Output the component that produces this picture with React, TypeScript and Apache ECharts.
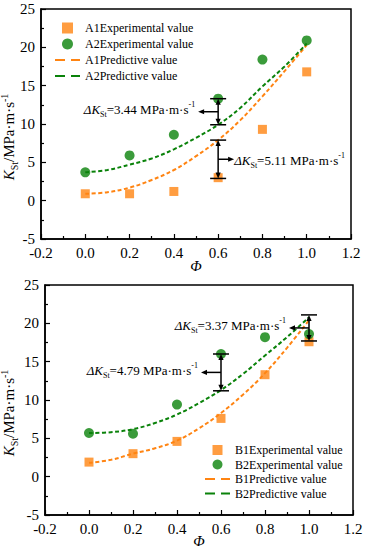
import React, { useEffect, useRef } from "react";
import * as echarts from "echarts";

// ---------- data ----------
const xTicks = [-0.2, 0.0, 0.2, 0.4, 0.6, 0.8, 1.0, 1.2];
const yTicks = [-5, 0, 5, 10, 15, 20, 25];

const phiExp = [0, 0.2, 0.4, 0.6, 0.8, 1.0];
const a1Exp = [0.9, 0.9, 1.2, 3.0, 9.3, 16.8];
const a2Exp = [3.7, 5.9, 8.6, 13.3, 18.4, 20.9];
const b1Exp = [1.9, 3.0, 4.6, 7.6, 13.3, 17.6];
const b2Exp = [5.7, 5.6, 9.4, 16.0, 18.2, 18.6];

const phiPred = [0, 0.1, 0.2, 0.3, 0.4, 0.5, 0.6, 0.7, 0.8, 0.9, 1.0];
const a1Pred = [0.9, 1.1, 1.7, 2.7, 4.0, 5.8, 7.9, 10.5, 13.6, 16.9, 20.3];
const a2Pred = [3.7, 4.0, 4.7, 5.5, 6.7, 8.2, 9.9, 12.1, 14.9, 17.5, 20.5];
const b1Pred = [1.8, 2.2, 3.0, 3.7, 4.7, 6.3, 8.3, 10.7, 13.5, 16.8, 20.4];
const b2Pred = [5.7, 5.8, 6.2, 7.0, 8.1, 9.6, 11.3, 13.4, 15.8, 18.2, 20.8];

const topDeltaPhi = [0.6, 0.6];
const topDeltaHigh = [13.3, 7.9];
const topDeltaLow = [9.9, 2.9];
const topDeltaValue = ["3.44", "5.11"];
const topDeltaSide = [-1, 1];

const bottomDeltaPhi = [0.6, 1.0];
const bottomDeltaHigh = [16.0, 21.1];
const bottomDeltaLow = [11.2, 17.7];
const bottomDeltaValue = ["4.79", "3.37"];
const bottomDeltaSide = [-1, -1];

// ---------- styles ----------
const FONT = "'Liberation Serif', 'Times New Roman', serif";
const ORANGE = "#ff8412";
const GREEN = "#0a820a";
const SQUARE_ICON = "path://M0,0h10v10H0z";
const DASH_ICON = "path://M0,0h10v2H0z M16,0h9v2H16z";

const pairs = (xs: number[], ys: number[]) => xs.map((x, i) => [x, ys[i]]);

const deltaRich = {
  k: { fontFamily: FONT, fontSize: 13, fontStyle: "italic", lineHeight: 18, fill: "#000", verticalAlign: "middle" },
  s: { fontFamily: FONT, fontSize: 8, lineHeight: 8, fill: "#000", verticalAlign: "bottom" },
  n: { fontFamily: FONT, fontSize: 13, lineHeight: 18, fill: "#000", verticalAlign: "middle" },
  p: { fontFamily: FONT, fontSize: 8, lineHeight: 8, fill: "#000", verticalAlign: "top" },
};

function makeBracketSeries(
  xIdx: number,
  phis: number[],
  highs: number[],
  lows: number[],
  values: string[],
  sides: number[]
) {
  return {
    type: "custom",
    xAxisIndex: xIdx,
    yAxisIndex: xIdx,
    clip: false,
    silent: true,
    z: 10,
    encode: { x: 0, y: [1, 2] },
    data: phis.map((p, i) => [p, highs[i], lows[i], sides[i]]),
    renderItem: (params: any, api: any) => {
      const x = api.value(0);
      const hi = api.value(1);
      const lo = api.value(2);
      const side = api.value(3);
      const pHi = api.coord([x, hi]);
      const pLo = api.coord([x, lo]);
      const cx = pHi[0];
      const yt = pHi[1];
      const yb = pLo[1];
      const ym = (yt + yb) / 2;
      const cap = 8;
      const ah = 5;
      const aw = 2.6;
      const len = side < 0 ? 20 : 16;
      const ls = { stroke: "#000", lineWidth: 1.5 };
      const fs = { fill: "#000" };
      const tip = cx + side * len;
      const text = `{k|ΔK}{s|St}{n|=${values[params.dataIndex]} MPa·m·s}{p|-1}`;
      return {
        type: "group",
        children: [
          { type: "line", shape: { x1: cx - cap, y1: yt, x2: cx + cap, y2: yt }, style: ls },
          { type: "line", shape: { x1: cx - cap, y1: yb, x2: cx + cap, y2: yb }, style: ls },
          { type: "line", shape: { x1: cx, y1: yt + ah, x2: cx, y2: yb - ah }, style: ls },
          { type: "polygon", shape: { points: [[cx, yt], [cx - aw, yt + ah + 1], [cx + aw, yt + ah + 1]] }, style: fs },
          { type: "polygon", shape: { points: [[cx, yb], [cx - aw, yb - ah - 1], [cx + aw, yb - ah - 1]] }, style: fs },
          { type: "line", shape: { x1: cx, y1: ym, x2: tip - side * ah, y2: ym }, style: ls },
          {
            type: "polygon",
            shape: { points: [[tip, ym], [tip - side * (ah + 1), ym - aw], [tip - side * (ah + 1), ym + aw]] },
            style: fs,
          },
          {
            type: "text",
            x: side < 0 ? tip - 3 : tip,
            y: side < 0 ? ym - 2 : ym + 1,
            style: {
              text,
              rich: deltaRich,
              align: side < 0 ? "right" : "left",
              verticalAlign: "middle",
              fill: "#000",
              fontFamily: FONT,
              fontSize: 13,
            },
          },
        ],
      };
    },
  };
}

function xAxisOpt(gridIndex: number, gap: number) {
  return {
    type: "value",
    gridIndex,
    min: xTicks[0],
    max: xTicks[xTicks.length - 1],
    interval: 0.2,
    name: "Φ",
    nameLocation: "middle",
    nameGap: gap,
    nameMoveOverlap: false,
    nameTextStyle: { fontFamily: FONT, fontSize: 15, fontStyle: "italic", color: "#000" },
    axisLine: { show: true, onZero: false, lineStyle: { color: "#000", width: 1.5 } },
    axisTick: { show: true, inside: true, length: 5, lineStyle: { color: "#000", width: 1.2 } },
    minorTick: { show: true, splitNumber: 2, length: 3, lineStyle: { color: "#000", width: 1.2 } },
    splitLine: { show: false },
    axisLabel: {
      fontFamily: FONT,
      fontSize: 15,
      color: "#000",
      margin: 6,
      formatter: (v: number) => (Math.abs(v) < 1e-9 ? "0.0" : v.toFixed(1)),
    },
  };
}

function yAxisOpt(gridIndex: number, gap: number) {
  return {
    type: "value",
    gridIndex,
    min: yTicks[0],
    max: yTicks[yTicks.length - 1],
    interval: 5,
    name: "{k|K}{s|St}{n|/MPa·m·s}{p|-1}",
    nameLocation: "middle",
    nameGap: gap,
    nameRotate: 90,
    nameMoveOverlap: false,
    nameTextStyle: {
      fontFamily: FONT,
      fontSize: 15,
      color: "#000",
      padding: [0, 26, 0, 0],
      rich: {
        k: { fontFamily: FONT, fontSize: 15, fontStyle: "italic", lineHeight: 20, color: "#000", verticalAlign: "middle" },
        s: { fontFamily: FONT, fontSize: 10, lineHeight: 10, color: "#000", verticalAlign: "bottom" },
        n: { fontFamily: FONT, fontSize: 15, lineHeight: 20, color: "#000", verticalAlign: "middle" },
        p: { fontFamily: FONT, fontSize: 10, lineHeight: 10, color: "#000", verticalAlign: "top" },
      },
    },
    axisLine: { show: true, onZero: false, lineStyle: { color: "#000", width: 1.5 } },
    axisTick: { show: true, inside: true, length: 5, lineStyle: { color: "#000", width: 1.2 } },
    minorTick: { show: true, splitNumber: 2, length: 3, lineStyle: { color: "#000", width: 1.2 } },
    splitLine: { show: false },
    axisLabel: { fontFamily: FONT, fontSize: 15, color: "#000", margin: 6 },
  };
}

const dash = [4, 2.5];

function seriesFor(idx: number, n1: string, n2: string, e1: number[], e2: number[], p1: number[], p2: number[]) {
  return [
    {
      name: `${n1}Experimental value`,
      type: "scatter",
      xAxisIndex: idx,
      yAxisIndex: idx,
      symbol: "rect",
      symbolSize: 9,
      itemStyle: { color: ORANGE },
      data: pairs(phiExp, e1),
      z: 3,
    },
    {
      name: `${n2}Experimental value`,
      type: "scatter",
      xAxisIndex: idx,
      yAxisIndex: idx,
      symbol: "circle",
      symbolSize: 10,
      itemStyle: { color: GREEN },
      data: pairs(phiExp, e2),
      z: 3,
    },
    {
      name: `${n1}Predictive value`,
      type: "line",
      xAxisIndex: idx,
      yAxisIndex: idx,
      symbol: "none",
      smooth: 0.4,
      lineStyle: { color: ORANGE, width: 2, type: dash },
      itemStyle: { color: ORANGE },
      data: pairs(phiPred, p1),
      z: 2,
    },
    {
      name: `${n2}Predictive value`,
      type: "line",
      xAxisIndex: idx,
      yAxisIndex: idx,
      symbol: "none",
      smooth: 0.4,
      lineStyle: { color: GREEN, width: 2, type: dash },
      itemStyle: { color: GREEN },
      data: pairs(phiPred, p2),
      z: 2,
    },
  ];
}

function legendOpt(left: number, top: number, itemHeight: number, gap: number, prefix1: string, prefix2: string) {
  return {
    orient: "vertical",
    left,
    top,
    padding: 0,
    itemWidth: 25,
    itemHeight,
    itemGap: gap,
    selectedMode: false,
    textStyle: { fontFamily: FONT, fontSize: 12, lineHeight: 12, color: "#000" },
    data: [
      { name: `${prefix1}Experimental value`, icon: SQUARE_ICON },
      { name: `${prefix2}Experimental value`, icon: "circle" },
      { name: `${prefix1}Predictive value`, icon: DASH_ICON },
      { name: `${prefix2}Predictive value`, icon: DASH_ICON },
    ],
  };
}

const gridBase = {
  show: true,
  borderColor: "#000",
  borderWidth: 1.5,
  backgroundColor: "transparent",
  containLabel: false,
  outerBoundsMode: "none",
};

export default function App() {
  const ref = useRef<HTMLDivElement>(null);
  useEffect(() => {
    if (!ref.current) return;
    const chart = echarts.init(ref.current, null, { renderer: "svg" });
    chart.setOption({
      animation: false,
      backgroundColor: "#fff",
      textStyle: { fontFamily: FONT },
      grid: [
        { ...gridBase, left: 41, right: 14, top: 9, height: 230 },
        { ...gridBase, left: 45, right: 12, top: 285, height: 230 },
      ],
      xAxis: [xAxisOpt(0, 19), xAxisOpt(1, 18)],
      yAxis: [yAxisOpt(0, 22), yAxisOpt(1, 26)],
      legend: [legendOpt(55, 22, 11, 4, "A1", "A2"), legendOpt(205, 444, 10, 2.5, "B1", "B2")],
      series: [
        ...seriesFor(0, "A1", "A2", a1Exp, a2Exp, a1Pred, a2Pred),
        ...seriesFor(1, "B1", "B2", b1Exp, b2Exp, b1Pred, b2Pred),
        makeBracketSeries(0, topDeltaPhi, topDeltaHigh, topDeltaLow, topDeltaValue, topDeltaSide),
        makeBracketSeries(1, bottomDeltaPhi, bottomDeltaHigh, bottomDeltaLow, bottomDeltaValue, bottomDeltaSide),
      ],
    });
    return () => chart.dispose();
  }, []);
  return <div ref={ref} style={{ position: "fixed", left: 0, top: 0, width: 365, height: 550 }} />;
}
